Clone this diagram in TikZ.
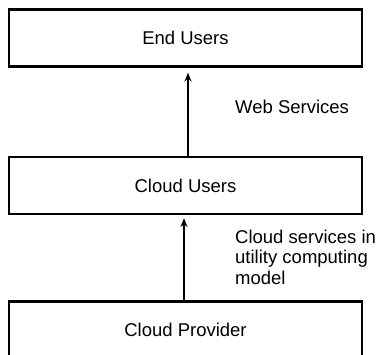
\documentclass[tikz,border=0pt]{standalone}
\usepackage{fontspec}
\setmainfont{Liberation Sans}
\usetikzlibrary{arrows.meta}
\begin{document}
\begin{tikzpicture}[x=1pt,y=-1pt,
  box/.style={draw,line width=2.2pt,minimum width=353pt,minimum height=57pt,inner sep=0pt,font=\fontsize{18.5}{21}\selectfont},
  arr/.style={line width=2pt,-{Stealth[length=9pt,width=7pt]}},
  lbl/.style={font=\fontsize{18.5}{21}\selectfont,align=left,inner sep=0pt,anchor=base west}]
\useasboundingbox (0,0) rectangle (380,355);
\clip (0,0) rectangle (380,355);
\node[box] (eu) at (185.5,38) {End Users};
\node[box] (cu) at (185.5,185.5) {Cloud Users};
\node[box] (cp) at (185.5,330) {Cloud Provider};
\draw[arr,shorten >=5pt] ([xshift=2.5pt]cu.north) -- ([xshift=2.5pt]eu.south);
\draw[arr,shorten >=3pt] ([xshift=-1.5pt]cp.north) -- ([xshift=-1.5pt]cu.south);
\node[lbl] (ws) at (235,114) {Web Services};
\node[lbl] (cs) at (235,285) {Cloud services in\\utility computing\\model};
\end{tikzpicture}
\end{document}
